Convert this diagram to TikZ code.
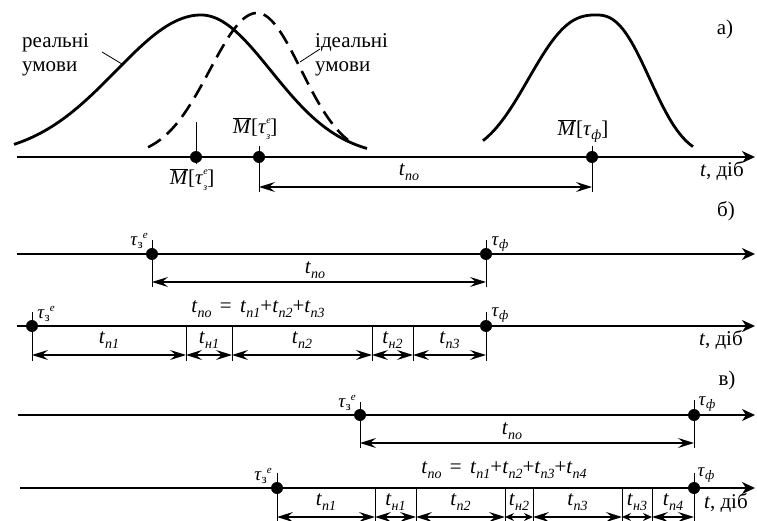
\documentclass[tikz,border=0pt]{standalone}
\usepackage{fontspec}
\setmainfont{Liberation Serif}
\usetikzlibrary{arrows.meta}
\newcommand{\lsub}[1]{\raisebox{-0.45ex}{\fontsize{14}{14}\selectfont\itshape #1}}
\newcommand{\tvar}[1]{\textit{t}\lsub{#1}}
\newcommand{\Mb}{$\overline{\mbox{\textit{M}}}$}
\newcommand{\eqsp}{\hspace{0.4em}=\hspace{0.4em}}
\newcommand{\taustk}{\textit{τ}\rlap{\raisebox{1.05ex}{\fontsize{10}{10}\selectfont\itshape е}}\raisebox{-0.65ex}{\fontsize{10}{10}\selectfont\itshape з}}
\newcommand{\tauze}{{\fontsize{19}{19}\selectfont\textit{τ}\raisebox{-0.4ex}{\fontsize{13}{13}\selectfont з}\raisebox{0.85ex}{\fontsize{11}{11}\selectfont\itshape е}}}
\newcommand{\tauf}{{\fontsize{19}{19}\selectfont\textit{τ}\raisebox{-0.4ex}{\fontsize{13}{13}\selectfont\itshape ф}}}
\begin{document}
\begin{tikzpicture}[x=1pt,y=-1pt,
  axis/.style={line width=2pt,-{Stealth[length=13pt,width=12pt,inset=4pt]}},
  curve/.style={line width=2.8pt},
  ideal/.style={line width=2.6pt,dash pattern=on 15pt off 8pt},
  tick/.style={line width=1pt},
  dot/.style={circle,fill=black,inner sep=0pt,minimum size=12pt},
  dimL/.style={line width=1.2pt,{Stealth[length=16pt,width=10pt,inset=6pt]}-{Stealth[length=16pt,width=10pt,inset=6pt]}},
  dimT/.style={line width=1.2pt,{Stealth[length=9pt,width=8pt,inset=3pt]}-{Stealth[length=9pt,width=8pt,inset=3pt]}},
  lbl/.style={inner sep=0pt,font=\fontsize{21}{24}\selectfont},
  tlbl/.style={inner sep=0pt},
  lead/.style={line width=0.8pt}]
\useasboundingbox (0,0) rectangle (757,521);

% ---------- panel a ----------
\draw[curve] plot[domain=14:367,samples=120] (\x,{157-142*exp(-0.5*((\x-201)/ifthenelse(\x<201,85,70))^2)});
\draw[ideal] plot[domain=148:348,samples=100] (\x,{157-144*exp(-0.5*((\x-257)/ifthenelse(\x<257,47,44))^2)});
\draw[curve] plot[domain=483:693,samples=100] (\x,{157-142*exp(-((abs(\x-596)+0.01)/ifthenelse(\x<596,83,66))^2.5)});

\coordinate (a0) at (17,157);
\coordinate (a1) at (755,157);
\draw[axis] (a0) -- (a1);
\node[dot] (ma) at (196,157) {};
\node[dot] (mb) at (259,157) {};
\node[dot] (mf) at (592,157) {};
\draw[tick] (ma |- 0,122) -- (ma |- 0,164);
\draw[tick] (mb |- 0,146) -- (mb |- 0,192);
\draw[tick] (mf |- 0,146) -- (mf |- 0,192);
\draw[dimL] (mb |- 0,187) -- (mf |- 0,187);

\node[lbl,align=left,anchor=north west] (real) at (22,33) {реальні\\умови};
\node[lbl,align=left,anchor=north west] (ideal) at (315,33) {ідеальні\\умови};
\coordinate (rl1) at (102,52);
\coordinate (rl2) at (122,64);
\draw[lead] (rl1) -- (rl2);
\coordinate (il1) at (300,62);
\coordinate (il2) at (320,49);
\draw[lead] (il1) -- (il2);

\node[lbl] (mlu) at (255,129) {\Mb[\taustk]};
\node[lbl] (mll) at (192,180) {\Mb[\taustk]};
\node[lbl] (mlf) at (583,131) {\Mb[\textit{τ}\lsub{ф}]};
\node[lbl] (tpoa) at (409,172) {\tvar{по}};
\node[lbl,anchor=base] (pa) at (725,35) {а)};
\node[lbl] (ta) at (722,171) {\textit{t}, діб};

% ---------- panel b ----------
\node[lbl,anchor=base] (pb) at (726,217) {б)};
\coordinate (b10) at (17,254);
\coordinate (b11) at (755,254);
\draw[axis] (b10) -- (b11);
\node[dot] (b1z) at (152,254) {};
\node[dot] (b1f) at (486,254) {};
\draw[tick] (b1z |- 0,240) -- (b1z |- 0,287);
\draw[tick] (b1f |- 0,240) -- (b1f |- 0,287);
\draw[dimL] (b1z |- 0,282) -- (b1f |- 0,282);
\node[lbl] (tpob) at (315,270) {\tvar{по}};
\node[tlbl] (tzb1) at (139,241) {\tauze};
\node[tlbl] (tfb1) at (500,244) {\tauf};

\coordinate (b20) at (17,326);
\coordinate (b21) at (755,326);
\draw[axis] (b20) -- (b21);
\node[dot] (b2z) at (32,326) {};
\node[dot] (b2f) at (486,326) {};
\draw[tick] (b2z |- 0,312) -- (b2z |- 0,361);
\draw[tick] (b2f |- 0,312) -- (b2f |- 0,361);
\foreach \x in {186,232,372,413} {
  \coordinate (bt\x) at (\x,326);
  \draw[tick] (bt\x) -- ++(0,35);
}
\foreach \a/\b/\l in {32/186/п1,186/232/н1,232/372/п2,372/413/н2,413/486/п3} {
  \coordinate (bs\a) at (\a,355);
  \coordinate (be\a) at (\b,355);
  \draw[dimL] (bs\a) -- node[lbl,midway,yshift=15pt] (bl\a) {\tvar{\l}} (be\a);
}
\node[lbl] (fb) at (258,309) {\tvar{по}\eqsp\tvar{п1}+\tvar{п2}+\tvar{п3}};
\node[tlbl] (tzb2) at (46,314) {\tauze};
\node[tlbl] (tfb2) at (500,315) {\tauf};
\node[lbl] (tb) at (721,340) {\textit{t}, діб};

% ---------- panel c ----------
\node[lbl,anchor=base] (pc) at (727,385) {в)};
\coordinate (c10) at (18,415);
\coordinate (c11) at (755,415);
\draw[axis] (c10) -- (c11);
\node[dot] (c1z) at (360,415) {};
\node[dot] (c1f) at (694,415) {};
\draw[tick] (c1z |- 0,402) -- (c1z |- 0,448);
\draw[tick] (c1f |- 0,400) -- (c1f |- 0,448);
\draw[dimL] (c1z |- 0,443) -- (c1f |- 0,443);
\node[lbl] (tpoc) at (512,431) {\tvar{по}};
\node[tlbl] (tzc1) at (347,403) {\tauze};
\node[tlbl] (tfc1) at (707,404) {\tauf};

\coordinate (c20) at (20,488);
\coordinate (c21) at (755,488);
\draw[axis] (c20) -- (c21);
\node[dot] (c2z) at (277,488) {};
\node[dot] (c2f) at (694,488) {};
\draw[tick] (c2z |- 0,473) -- (c2z |- 0,521);
\draw[tick] (c2f |- 0,473) -- (c2f |- 0,521);
\foreach \x in {375,416,505,533,622,652} {
  \coordinate (ct\x) at (\x,488);
  \draw[tick] (ct\x) -- ++(0,33);
}
\foreach \a/\b/\l/\s in {277/375/п1/dimL,375/416/н1/dimL,416/505/п2/dimL,505/533/н2/dimT,533/622/п3/dimL,622/652/н3/dimT,652/694/п4/dimL} {
  \coordinate (cs\a) at (\a,517);
  \coordinate (ce\a) at (\b,517);
  \draw[\s] (cs\a) -- node[lbl,midway,yshift=15pt] (cl\a) {\tvar{\l}} (ce\a);
}
\node[lbl] (fc) at (504,470) {\tvar{по}\eqsp\tvar{п1}+\tvar{п2}+\tvar{п3}+\tvar{п4}};
\node[tlbl] (tzc2) at (263,476) {\tauze};
\node[tlbl] (tfc2) at (706,475) {\tauf};
\node[lbl] (tc) at (726,503) {\textit{t}, діб};
\end{tikzpicture}
\end{document}
